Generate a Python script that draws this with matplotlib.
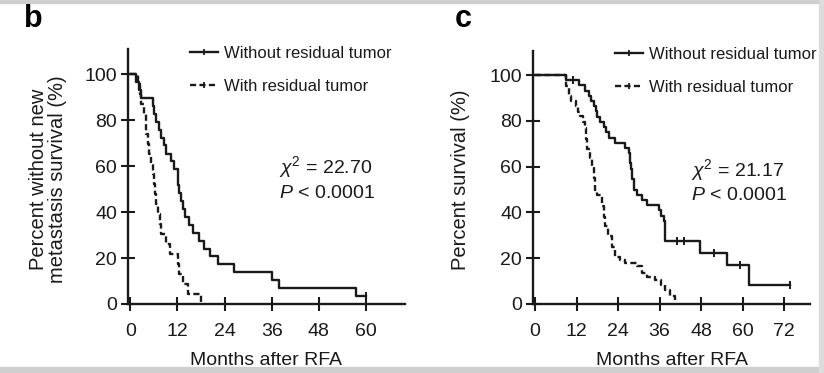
import matplotlib
matplotlib.use("Agg")
import matplotlib.pyplot as plt
from matplotlib.lines import Line2D
from matplotlib.patches import Rectangle

plt.rcParams['font.family'] = ['Liberation Sans', 'DejaVu Sans']
plt.rcParams['mathtext.fontset'] = 'custom'
plt.rcParams['mathtext.rm'] = 'Liberation Sans'
plt.rcParams['mathtext.it'] = 'Liberation Sans:italic'

# ---- panel b: metastasis-free survival (months, percent) ----
b_no_res_t = [0, 1.4, 2.2, 2.7, 5.7, 6.1, 6.5, 7.4, 7.8, 8.7, 9.1, 10.4, 11.2,
              12.1, 12.2, 12.5, 12.9, 13.3, 14.0, 15.0, 16.0, 17.4, 18.8, 20.4,
              22.3, 26.5, 36.0, 38.0, 57.6, 60.0]
b_no_res_s = [100, 96.6, 93.1, 89.7, 86.2, 82.8, 79.3, 75.9, 72.4, 69.0, 65.5,
              62.1, 58.6, 55.2, 51.7, 48.3, 44.8, 41.4, 37.9, 34.5, 31.0, 27.6,
              24.1, 20.7, 17.2, 13.8, 10.3, 6.9, 3.4, 3.4]
b_no_res_cens_t = [60.0]
b_no_res_cens_s = [3.4]

b_res_t = [0, 2.0, 2.5, 2.8, 3.5, 3.9, 4.1, 4.5, 4.8, 5.3, 5.7, 6.0, 6.2, 6.6,
           7.0, 7.5, 7.9, 9.0, 10.2, 12.1, 12.3, 13.3, 14.8, 18.0]
b_res_s = [100, 95.7, 91.3, 87.0, 82.6, 78.3, 73.9, 69.6, 65.2, 60.9, 56.5,
           52.2, 47.8, 43.5, 39.1, 34.8, 30.4, 26.1, 21.7, 17.4, 13.0, 8.7,
           4.3, 0]

# ---- panel c: overall survival ----
c_no_res_t = [0, 8.8, 12.6, 14.5, 15.5, 16.3, 17.0, 17.5, 17.9, 18.8, 19.9,
              20.6, 21.3, 23.2, 26.1, 27.1, 27.4, 27.6, 28.0, 28.5, 29.5, 30.9,
              32.4, 35.8, 36.5, 37.2, 37.7, 47.8, 55.5, 61.8, 73.8]
c_no_res_s = [100, 97.7, 95.5, 93.2, 90.9, 88.6, 86.4, 84.1, 81.8, 79.5, 77.3,
              75.0, 72.7, 70.5, 68.2, 65.9, 61.4, 59.0, 54.5, 50.0, 47.7, 45.5,
              43.2, 40.9, 38.6, 36.4, 27.3, 22.2, 17.1, 8.5, 8.5]
c_no_res_cens_t = [11.0, 41.0, 43.0, 51.6, 59.4, 73.8]
c_no_res_cens_s = [97.7, 27.3, 27.3, 22.2, 17.1, 8.5]

c_res_t = [0, 8.8, 9.7, 10.5, 11.7, 12.4, 13.1, 13.8, 14.5, 14.8, 15.0, 15.8,
           16.5, 16.9, 17.4, 18.0, 19.4, 19.9, 20.3, 21.0, 22.3, 23.2, 24.5,
           26.1, 29.5, 30.9, 32.5, 34.8, 36.3, 37.7, 39.0, 40.6]
c_res_s = [100, 95.3, 91.0, 88.6, 86.5, 84.0, 82.0, 79.5, 77.0, 72.0, 67.5,
           63.7, 60.2, 55.0, 50.0, 47.5, 42.7, 38.0, 33.9, 29.5, 25.0, 20.7,
           19.0, 17.8, 16.4, 13.5, 12.0, 10.5, 8.3, 6.1, 3.5, 0]

legend_labels = ["Without residual tumor", "With residual tumor"]
DASH = (0, (2.6, 1.4))
INK = '#1a1a1a'

W, H = 824, 373
fig = plt.figure(figsize=(W / 100, H / 100), dpi=100, facecolor='white')

# grey frame of the scanned figure
fig.patches.append(Rectangle((0, 1 - 3 / H), 1, 3 / H, transform=fig.transFigure,
                             color='#cfcfcf', zorder=0))
fig.patches.append(Rectangle((0, 0), 1, 6 / H, transform=fig.transFigure,
                             color='#cfcfcf', zorder=0))
fig.patches.append(Rectangle((1 - 5 / W, 0), 5 / W, 1, transform=fig.transFigure,
                             color='#dcdcdc', zorder=0))


def px_axes(left, top, right, bottom):
    return fig.add_axes([left / W, 1 - bottom / H, (right - left) / W, (bottom - top) / H])


def style_axes(ax, xmax, xticks, ylabel, ylab_x):
    ax.set_xlim(-0.6, xmax)
    ax.set_ylim(0, 111)
    for s in ['top', 'right']:
        ax.spines[s].set_visible(False)
    for s in ['left', 'bottom']:
        ax.spines[s].set_linewidth(1.7)
        ax.spines[s].set_color(INK)
    ax.set_xticks(xticks)
    ax.set_yticks([0, 20, 40, 60, 80, 100])
    ax.tick_params(direction='inout', length=10, width=1.5, labelsize=14, colors=INK)
    ax.tick_params(axis='x', pad=9)
    ax.tick_params(axis='y', pad=3)
    ax.set_xlabel("Months after RFA", fontsize=14, color=INK)
    ax.xaxis.set_label_coords(0.5, -0.19)
    ax.set_ylabel(ylabel, fontsize=14.5, linespacing=0.95, color=INK)
    ax.yaxis.set_label_coords(ylab_x, 0.49)
    ax.patch.set_alpha(0)


def draw_km(ax, t, s, dashed=False):
    ax.step(t, s, where='post', color=INK, lw=1.7,
            linestyle=DASH if dashed else '-', clip_on=False)


def draw_legend(ax, x0, y0):
    handles = [Line2D([], [], color=INK, lw=1.7, marker='|', markersize=5, markeredgewidth=1.3),
               Line2D([], [], color=INK, lw=1.7, linestyle=DASH, marker='|', markersize=5,
                      markeredgewidth=1.3)]
    ax.legend(handles, legend_labels, loc='upper left', bbox_to_anchor=(x0 / W, 1 - y0 / H),
              bbox_transform=fig.transFigure, frameon=False, fontsize=12, numpoints=1,
              handlelength=1.65, handletextpad=0.4, labelspacing=1.1, borderpad=0,
              borderaxespad=0, labelcolor=INK)


# panel b
axb = px_axes(128, 49, 405, 304)
style_axes(axb, 70, [0, 12, 24, 36, 48, 60],
           "Percent without new\nmetastasis survival (%)", -0.222)
draw_km(axb, b_no_res_t, b_no_res_s)
draw_km(axb, b_res_t, b_res_s, dashed=True)
axb.plot(b_no_res_cens_t, b_no_res_cens_s, ls='none', marker='|', ms=6, mew=1.4,
         color=INK, clip_on=False)
draw_legend(axb, 190, 46)
axb.text(279 / W, 1 - 167 / H, r"$\chi^2$ = 22.70", transform=fig.transFigure,
         fontsize=14, va='center', ha='left', color=INK)
axb.text(279 / W, 1 - 193 / H, r"$P$ < 0.0001", transform=fig.transFigure,
         fontsize=14, va='center', ha='left', color=INK)
fig.text(24 / W, 1 - 19 / H, "b", fontsize=22, fontweight='bold', va='center', ha='left')

# panel c
axc = px_axes(533, 51, 810, 304)
style_axes(axc, 79.5, [0, 12, 24, 36, 48, 60, 72], "Percent survival (%)", -0.228)
axc.set_ylim(0, 110.5)
draw_km(axc, c_no_res_t, c_no_res_s)
draw_km(axc, c_res_t, c_res_s, dashed=True)
axc.plot(c_no_res_cens_t, c_no_res_cens_s, ls='none', marker='|', ms=6, mew=1.4,
         color=INK, clip_on=False)
draw_legend(axc, 615, 47)
axc.text(691 / W, 1 - 170 / H, r"$\chi^2$ = 21.17", transform=fig.transFigure,
         fontsize=14, va='center', ha='left', color=INK)
axc.text(691 / W, 1 - 195 / H, r"$P$ < 0.0001", transform=fig.transFigure,
         fontsize=14, va='center', ha='left', color=INK)
fig.text(455 / W, 1 - 19 / H, "c", fontsize=22, fontweight='bold', va='center', ha='left')

fig.savefig("out.png", dpi=100, facecolor='white')
